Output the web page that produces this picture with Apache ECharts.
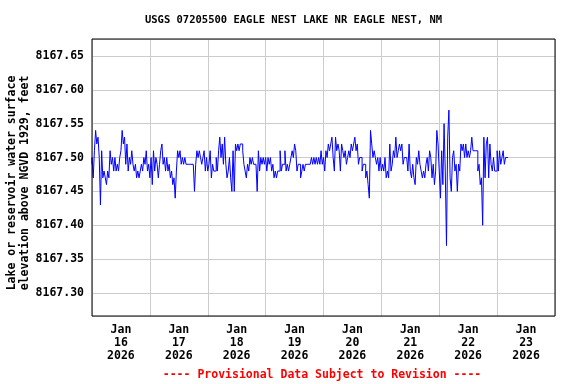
<!DOCTYPE html>
<html>
<head>
<meta charset="utf-8">
<script src="https://cdn.jsdelivr.net/npm/echarts@6/dist/echarts.min.js"></script>
<style>html,body{margin:0;padding:0;background:#fff;}#c{width:576px;height:384px;}</style>
</head>
<body>
<div id="c"></div>
<script>
const title = 'USGS 07205500 EAGLE NEST LAKE NR EAGLE NEST, NM';
const yName = 'Lake or reservoir water surface\nelevation above NGVD 1929, feet';
const footer = '---- Provisional Data Subject to Revision ----';
const dayLabels = ['Jan\n16\n2026','Jan\n17\n2026','Jan\n18\n2026','Jan\n19\n2026','Jan\n20\n2026','Jan\n21\n2026','Jan\n22\n2026','Jan\n23\n2026'];
const startTime = Date.UTC(2026,0,16,0,0);
const endTime = Date.UTC(2026,0,24,0,0);
const stepMinutes = 30;
const yMin = 8167.266, yMax = 8167.675;

const day16 = [8167.49,8167.50,8167.47,8167.51,8167.54,8167.52,8167.53,8167.50,8167.43,8167.51,8167.47,8167.48,8167.47,8167.46,8167.48,8167.47,8167.51,8167.49,8167.50,8167.48,8167.50,8167.48,8167.49,8167.48,8167.50,8167.51,8167.54,8167.52,8167.53,8167.49,8167.52,8167.48,8167.50,8167.49,8167.51,8167.49,8167.48,8167.49,8167.47,8167.48,8167.47,8167.48,8167.49,8167.48,8167.50,8167.49,8167.51,8167.48];
const day17 = [8167.49,8167.47,8167.50,8167.46,8167.51,8167.48,8167.50,8167.49,8167.47,8167.49,8167.51,8167.52,8167.49,8167.50,8167.48,8167.50,8167.48,8167.49,8167.47,8167.48,8167.46,8167.47,8167.44,8167.48,8167.51,8167.50,8167.51,8167.49,8167.50,8167.49,8167.50,8167.49,8167.49,8167.49,8167.49,8167.49,8167.49,8167.49,8167.45,8167.49,8167.51,8167.50,8167.51,8167.50,8167.49,8167.50,8167.51,8167.48];
const day18 = [8167.50,8167.48,8167.49,8167.51,8167.47,8167.49,8167.48,8167.48,8167.50,8167.48,8167.51,8167.53,8167.50,8167.52,8167.49,8167.53,8167.49,8167.47,8167.48,8167.50,8167.47,8167.45,8167.51,8167.45,8167.52,8167.51,8167.52,8167.51,8167.52,8167.52,8167.51,8167.49,8167.48,8167.47,8167.49,8167.48,8167.50,8167.49,8167.50,8167.49,8167.49,8167.49,8167.45,8167.51,8167.48,8167.50,8167.49,8167.50];
const day19 = [8167.49,8167.50,8167.48,8167.50,8167.49,8167.50,8167.48,8167.49,8167.47,8167.48,8167.47,8167.48,8167.48,8167.51,8167.48,8167.49,8167.49,8167.51,8167.48,8167.49,8167.48,8167.49,8167.50,8167.51,8167.50,8167.52,8167.51,8167.48,8167.49,8167.49,8167.47,8167.48,8167.49,8167.48,8167.49,8167.49,8167.49,8167.49,8167.49,8167.50,8167.49,8167.50,8167.49,8167.50,8167.49,8167.50,8167.49,8167.51];
const day20 = [8167.49,8167.50,8167.48,8167.51,8167.50,8167.52,8167.51,8167.52,8167.53,8167.50,8167.48,8167.53,8167.51,8167.52,8167.51,8167.48,8167.52,8167.51,8167.50,8167.51,8167.49,8167.50,8167.51,8167.50,8167.52,8167.51,8167.52,8167.53,8167.51,8167.52,8167.49,8167.50,8167.50,8167.48,8167.49,8167.49,8167.47,8167.48,8167.46,8167.44,8167.54,8167.52,8167.50,8167.51,8167.50,8167.49,8167.50,8167.48];
const day21 = [8167.50,8167.48,8167.49,8167.48,8167.50,8167.47,8167.48,8167.47,8167.52,8167.48,8167.49,8167.51,8167.50,8167.53,8167.50,8167.51,8167.52,8167.51,8167.52,8167.49,8167.50,8167.50,8167.50,8167.48,8167.52,8167.48,8167.47,8167.49,8167.47,8167.46,8167.50,8167.49,8167.51,8167.49,8167.48,8167.47,8167.48,8167.47,8167.49,8167.50,8167.48,8167.51,8167.50,8167.47,8167.49,8167.46,8167.48,8167.54];
const day22 = [8167.52,8167.48,8167.44,8167.51,8167.46,8167.55,8167.48,8167.37,8167.53,8167.57,8167.47,8167.45,8167.50,8167.51,8167.48,8167.49,8167.45,8167.49,8167.48,8167.52,8167.51,8167.52,8167.50,8167.52,8167.50,8167.51,8167.50,8167.51,8167.53,8167.51,8167.51,8167.51,8167.51,8167.48,8167.49,8167.46,8167.47,8167.40,8167.53,8167.47,8167.52,8167.53,8167.47,8167.52,8167.49,8167.48,8167.50,8167.48];
const day23 = [8167.48,8167.51,8167.48,8167.51,8167.49,8167.50,8167.51,8167.49,8167.50,8167.50];

const values = [].concat(day16, day17, day18, day19, day20, day21, day22, day23);
const seriesData = values.map((v, i) => [startTime + i * stepMinutes * 60000, v]);

const FONT = "'DejaVu Sans Mono', monospace";
const chart = echarts.init(document.getElementById('c'), null, {renderer: 'canvas'});
chart.setOption({
  animation: false,
  backgroundColor: '#fff',
  grid: {left: 92, right: 21, top: 39, bottom: 68, show: true, z: 10, borderColor: '#000', borderWidth: 1, backgroundColor: 'transparent', containLabel: false},
  xAxis: [
    {
      type: 'category', data: dayLabels, boundaryGap: true, position: 'bottom',
      axisLine: {show: false}, axisTick: {show: false},
      splitLine: {show: true, interval: 0, lineStyle: {color: '#cccccc', width: 1}},
      axisLabel: {interval: 0, margin: 8, color: '#000', fontFamily: FONT, fontWeight: 'bold', fontSize: 11.5, lineHeight: 13}
    },
    {
      type: 'time', min: startTime, max: endTime, show: false
    }
  ],
  yAxis: {
    type: 'value', min: yMin, max: yMax, splitNumber: 8,
    axisLine: {show: false}, axisTick: {show: false},
    splitLine: {show: true, lineStyle: {color: '#cccccc', width: 1}},
    axisLabel: {showMinLabel: false, showMaxLabel: false, margin: 8, color: '#000', fontFamily: FONT, fontWeight: 'bold', fontSize: 11.5,
      formatter: v => v.toFixed(2)}
  },
  series: [{
    type: 'line', xAxisIndex: 1, data: seriesData, step: 'start', showSymbol: false, symbol: 'none',
    lineStyle: {color: '#0000ff', width: 1}, itemStyle: {color: '#0000ff'}
  }],
  graphic: [
    {type: 'text', x: 293.5, y: 20, style: {text: title, font: "bold 10.5px " + FONT, fill: '#000', align: 'center', verticalAlign: 'middle'}},
    {type: 'text', x: 18.5, y: 183, rotation: Math.PI / 2, style: {text: yName, font: "bold 11.5px " + FONT, fill: '#000', align: 'center', verticalAlign: 'middle', lineHeight: 13}},
    {type: 'text', x: 322, y: 375, style: {text: footer, font: "bold 11.5px " + FONT, fill: '#ff0000', align: 'center', verticalAlign: 'middle'}}
  ]
});
</script>
</body>
</html>
